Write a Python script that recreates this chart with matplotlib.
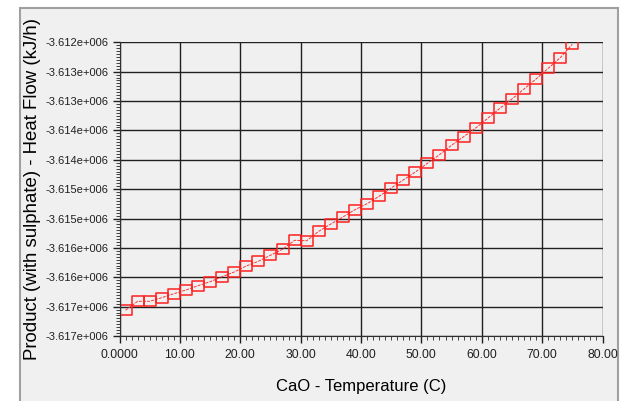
import numpy as np
import matplotlib.pyplot as plt
from matplotlib.patches import Rectangle
from matplotlib.ticker import MultipleLocator, FixedLocator, FixedFormatter

plt.rcParams['font.family'] = ['Liberation Sans', 'DejaVu Sans']

# CaO temperature (C) and product heat flow (kJ/h)
temperature = [1, 3, 5, 7, 9, 11, 13, 15, 17, 19, 21, 23, 25, 27, 29, 31, 33, 35, 37,
               39, 41, 43, 45, 47, 49, 51, 53, 55, 57, 59, 61, 63, 65, 67, 69, 71, 73, 75]
heat_flow = [-3616562, -3616409, -3616409, -3616348, -3616280, -3616217, -3616144,
             -3616076, -3615990, -3615910, -3615808, -3615728, -3615626, -3615524,
             -3615371, -3615378, -3615218, -3615093, -3614974, -3614850, -3614748,
             -3614622, -3614480, -3614344, -3614208, -3614060, -3613914, -3613753,
             -3613607, -3613459, -3613294, -3613124, -3612965, -3612795, -3612625,
             -3612443, -3612262, -3612034]

x_ticks = [0, 10, 20, 30, 40, 50, 60, 70, 80]
x_tick_labels = ['0.0000', '10.00', '20.00', '30.00', '40.00', '50.00', '60.00', '70.00', '80.00']
y_ticks = [-3617000, -3616500, -3616000, -3615500, -3615000, -3614500,
           -3614000, -3613500, -3613000, -3612500, -3612000]
y_tick_labels = ['-3.617e+006', '-3.617e+006', '-3.616e+006', '-3.616e+006', '-3.615e+006',
                 '-3.615e+006', '-3.614e+006', '-3.614e+006', '-3.613e+006', '-3.613e+006',
                 '-3.612e+006']

bg = '#f0f0f0'
fig = plt.figure(figsize=(6.21, 4.01), dpi=100, facecolor='white')

# grey panel behind the chart
fig.patches.append(Rectangle((20 / 621, -0.01), 598 / 621, 393 / 401 + 0.01, transform=fig.transFigure,
                             facecolor=bg, edgecolor='#a0a0a0', linewidth=1.5, zorder=-10))

ax = fig.add_axes([119.5 / 621, 65 / 401, 483 / 621, 293.7 / 401])
ax.set_facecolor(bg)

# slightly flattened square marker
rect_marker = [(-1.15, -1), (1.15, -1), (1.15, 1), (-1.15, 1), (-1.15, -1)]
ax.plot(temperature, heat_flow, color='#ff3030', linewidth=0.7, linestyle=(0, (3, 1.2)),
        marker=rect_marker, markersize=8.5,
        markerfacecolor='none', markeredgecolor='#ff2020', markeredgewidth=1.1)

ax.set_xlim(0, 80)
ax.set_ylim(-3617000, -3612000)
ax.xaxis.set_major_locator(FixedLocator(x_ticks))
ax.xaxis.set_major_formatter(FixedFormatter(x_tick_labels))
ax.xaxis.set_minor_locator(MultipleLocator(1))
ax.yaxis.set_major_locator(FixedLocator(y_ticks))
ax.yaxis.set_major_formatter(FixedFormatter(y_tick_labels))
ax.yaxis.set_minor_locator(MultipleLocator(50))

ax.grid(True, which='major', color='#202020', linewidth=1)
ax.tick_params(which='major', direction='out', length=5, width=1, labelsize=8,
               colors='#202020', pad=3)
ax.tick_params(axis='x', which='major', labelsize=8.8, pad=4)
ax.tick_params(which='minor', direction='out', length=3, width=0.7, colors='#404040')
for side in ['top', 'right']:
    ax.spines[side].set_visible(False)
for side in ['left', 'bottom']:
    ax.spines[side].set_color('#303030')

ax.set_xlabel('CaO - Temperature (C)', fontsize=12, labelpad=13)
ax.set_ylabel('Product (with sulphate) - Heat Flow (kJ/h)', fontsize=13.4, labelpad=3)

fig.savefig('out.png', dpi=100, facecolor='white')
